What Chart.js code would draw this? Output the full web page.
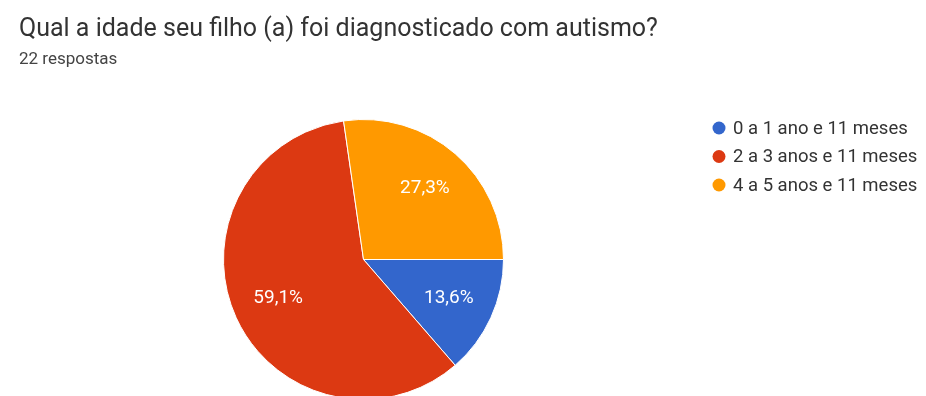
<!DOCTYPE html>
<html>
<head>
<meta charset="utf-8">
<script src="https://cdn.jsdelivr.net/npm/chart.js@4"></script>
<style>
  html, body { margin: 0; padding: 0; background: #fff; overflow: hidden; }
  #wrap { position: relative; width: 926px; height: 396px; overflow: hidden; }
  #chart { position: absolute; left: 0; top: 0; }
</style>
</head>
<body>
<div id="wrap"><canvas id="chart" width="926" height="430"></canvas></div>
<script>
const title = 'Qual a idade seu filho (a) foi diagnosticado com autismo?';
const subtitle = '22 respostas';
const labels = ['0 a 1 ano e 11 meses', '2 a 3 anos e 11 meses', '4 a 5 anos e 11 meses'];
const counts = [3, 13, 6];
const colors = ['#3366cc', '#dc3912', '#ff9900'];

const FONT = "Roboto, 'Noto Sans', Arial, sans-serif";

function pct(v) {
    const total = counts.reduce((a, b) => a + b, 0);
    return (v / total * 100).toFixed(1).replace('.', ',') + '%';
}

// Heading, legend and in-slice percentages
const formsDecor = {
    id: 'formsDecor',
    afterDatasetsDraw(chart) {
        const ctx = chart.ctx;
        const meta = chart.getDatasetMeta(0);
        ctx.save();
        ctx.fillStyle = '#ffffff';
        ctx.font = '19px ' + FONT;
        ctx.textAlign = 'center';
        ctx.textBaseline = 'middle';
        meta.data.forEach((arc, i) => {
            const p = arc.getProps(['x', 'y', 'startAngle', 'endAngle', 'outerRadius'], true);
            const mid = (p.startAngle + p.endAngle) / 2;
            const r = p.outerRadius * 0.67;
            ctx.fillText(pct(counts[i]), p.x + Math.cos(mid) * r, p.y + Math.sin(mid) * r);
        });

        ctx.textAlign = 'left';
        ctx.textBaseline = 'alphabetic';
        ctx.fillStyle = '#333333';
        ctx.font = '25px ' + FONT;
        ctx.fillText(title, 19, 36);
        ctx.fillStyle = '#444444';
        ctx.font = '17px ' + FONT;
        ctx.fillText(subtitle, 19, 64);

        ctx.textBaseline = 'middle';
        ctx.font = '18.5px ' + FONT;
        labels.forEach((lab, i) => {
            const y = 128 + i * 28.5;
            ctx.fillStyle = colors[i];
            ctx.beginPath();
            ctx.arc(719, y, 6.5, 0, Math.PI * 2);
            ctx.fill();
            ctx.fillStyle = '#333333';
            ctx.fillText(lab, 733, y + 1);
        });
        ctx.restore();
    }
};

new Chart(document.getElementById('chart'), {
    type: 'pie',
    data: {
        labels: labels,
        datasets: [{
            data: counts,
            backgroundColor: colors,
            borderColor: '#ffffff',
            borderWidth: 1,
            hoverOffset: 0
        }]
    },
    options: {
        responsive: false,
        animation: false,
        devicePixelRatio: 1,
        rotation: 90,
        layout: {
            padding: { left: 223, right: 422, top: 119, bottom: 30 }
        },
        plugins: {
            legend: { display: false },
            tooltip: { enabled: false }
        }
    },
    plugins: [formsDecor]
});
</script>
</body>
</html>
